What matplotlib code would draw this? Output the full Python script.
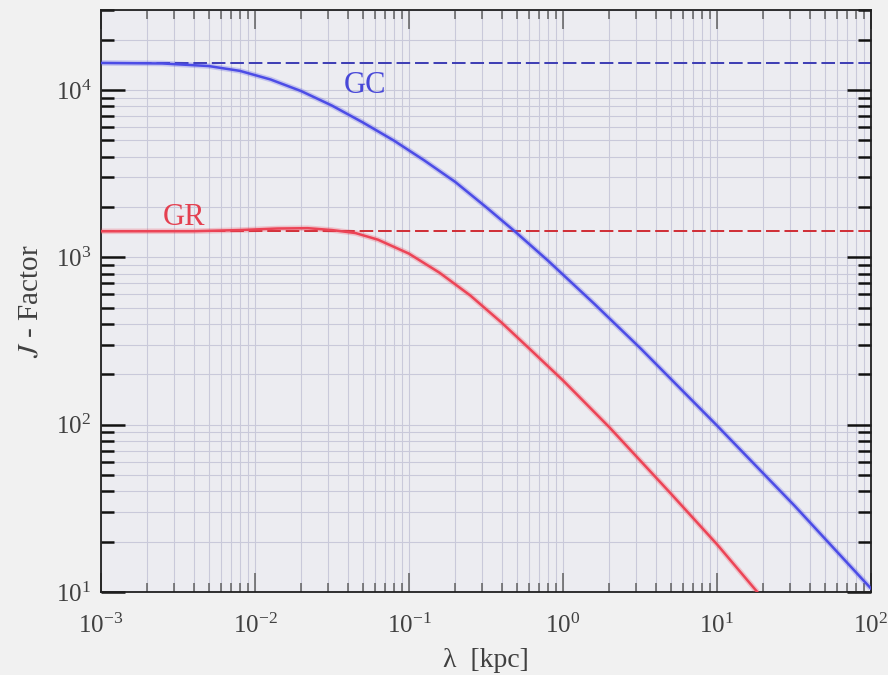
import numpy as np
import matplotlib.pyplot as plt

plt.rcParams["font.family"] = "serif"
plt.rcParams["font.serif"] = ["Liberation Serif", "DejaVu Serif"]
plt.rcParams["mathtext.fontset"] = "stix"

# J-factor vs smoothing scale lambda for the two targets
lam_gc = [0.001, 0.0025, 0.005, 0.008, 0.0126, 0.02, 0.0316, 0.05, 0.08, 0.126,
          0.2, 0.316, 0.5, 0.8, 1.6, 3.2, 10.0, 32.0, 100.0]
j_gc = [14500, 14400, 13900, 13000, 11560, 9840, 8070, 6410, 4980, 3790,
        2820, 2000, 1400, 955, 527, 285, 98.9, 32.7, 10.5]

lam_gr = [0.001, 0.004, 0.008, 0.014, 0.022, 0.0316, 0.045, 0.063, 0.1, 0.158,
          0.25, 0.4, 0.63, 1.0, 2.0, 5.0, 10.0, 18.3]
j_gr = [1430, 1432, 1455, 1486, 1493, 1455, 1396, 1274, 1052, 809,
        592, 407, 275, 184, 96.6, 38.9, 19.3, 10.0]

# unsmoothed reference levels
j_gc_point = 14500
j_gr_point = 1430

blue = "#4c4ce6"
red = "#ec4456"

fig = plt.figure(figsize=(8.88, 6.75), dpi=100, facecolor="#f1f1f1")
ax = fig.add_axes([0.1137, 0.123, 0.867, 0.862])
ax.set_facecolor("#ececf1")

ax.set_xscale("log")
ax.set_yscale("log")
ax.set_xlim(1e-3, 1e2)
ax.set_ylim(10, 3e4)

ax.grid(True, which="both", color="#c9c9da", linewidth=0.8)
ax.set_axisbelow(True)

ax.axhline(j_gc_point, color="#3c3cb4", lw=1.4, dashes=(7, 2.5), zorder=2)
ax.axhline(j_gr_point, color="#d02c34", lw=1.4, dashes=(7, 2.5), zorder=2)

for lam, j, c in [(lam_gc, j_gc, blue), (lam_gr, j_gr, red)]:
    ax.plot(lam, j, color=c, lw=4.0, alpha=0.25, solid_capstyle="butt", zorder=3)
    ax.plot(lam, j, color=c, lw=1.8, zorder=4)

ax.text(0.0516, 1.06e4, "GC", color="#4848d8", fontsize=22, ha="center", va="center")
ax.text(0.00348, 1730, "GR", color="#e44050", fontsize=22, ha="center", va="center")

for s in ax.spines.values():
    s.set_color("#202020")
    s.set_linewidth(1.3)

ax.tick_params(which="both", direction="in", top=True, right=True, labelsize=18)
ax.tick_params(axis="x", which="major", length=13.5, width=1.1, color="#606060", pad=16)
ax.tick_params(axis="x", which="minor", length=6.5, width=1.1, color="#606060")
ax.tick_params(axis="y", which="major", length=17, width=1.8, color="#111111", pad=7)
ax.tick_params(axis="y", which="minor", length=9.4, width=1.8, color="#111111")
for lab in ax.get_xticklabels() + ax.get_yticklabels():
    lab.set_color("#404040")

ax.set_xlabel(r"λ  [kpc]", fontsize=20, color="#404040", labelpad=7)
ax.set_ylabel(r"$J$ - Factor", fontsize=21, color="#404040", labelpad=9)

fig.savefig("out.png", dpi=100, facecolor=fig.get_facecolor())
